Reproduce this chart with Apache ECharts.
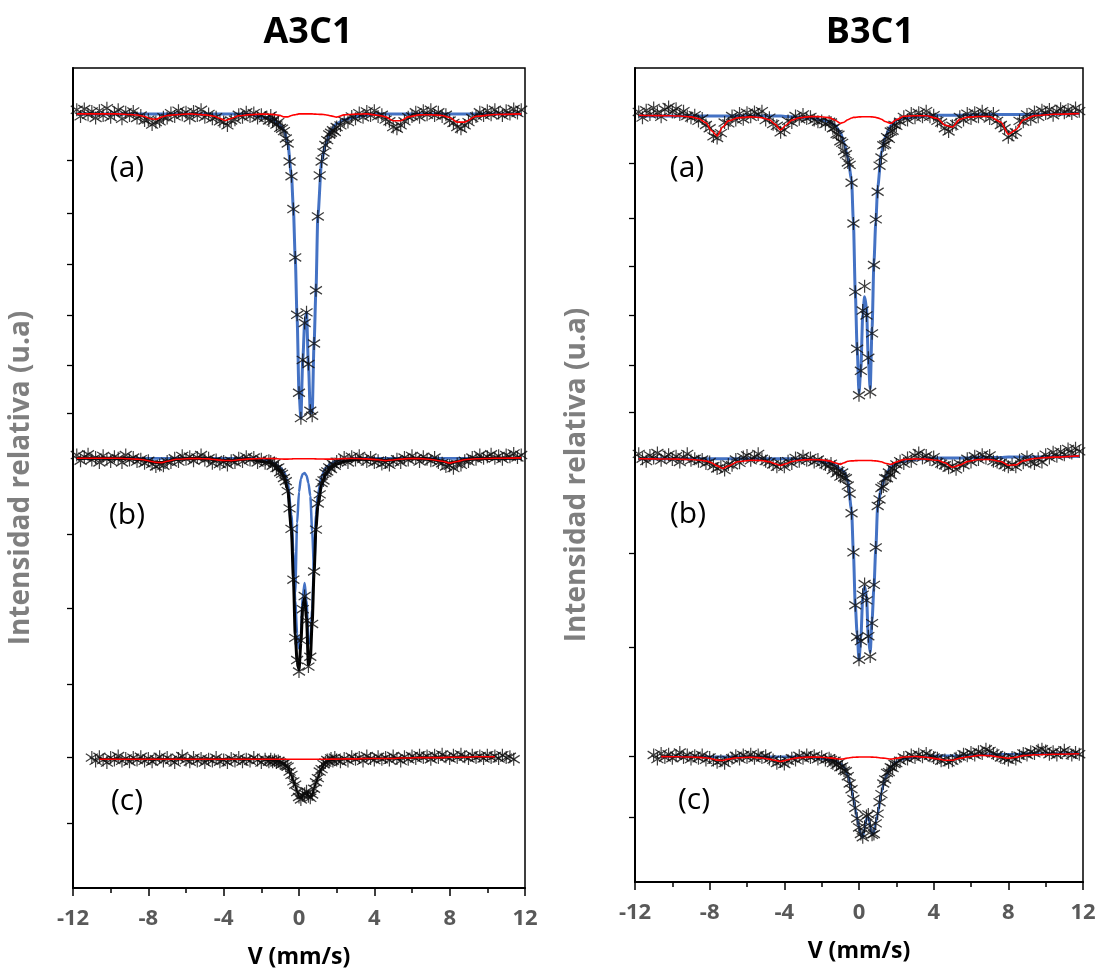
<!DOCTYPE html>
<html>
<head>
<meta charset="utf-8">
<script src="https://cdn.jsdelivr.net/npm/echarts@6/dist/echarts.min.js"></script>
<style>
html,body{margin:0;padding:0;background:#fff;}
#chart{width:1100px;height:975px;}
</style>
</head>
<body>
<div id="chart"></div>
<script>
// ---------- velocity channels (mm/s) ----------
const velocity = [
-11.8,-11.6,-11.4,-11.2,-11.0,-10.8,-10.6,-10.4,-10.2,-10.0,-9.8,-9.6,-9.4,-9.2,-9.0,-8.8,-8.6,-8.4,-8.2,-8.0,
-7.8,-7.6,-7.4,-7.2,-7.0,-6.8,-6.6,-6.4,-6.2,-6.0,-5.8,-5.6,-5.4,-5.2,-5.0,-4.8,-4.6,-4.4,-4.2,-4.0,
-3.8,-3.6,-3.4,-3.2,-3.0,-2.8,-2.6,-2.4,-2.2,-2.0,-1.8,-1.6,
-1.5,-1.4,-1.3,-1.2,-1.1,-1.0,-0.9,-0.8,-0.7,-0.6,
-0.5,-0.4,-0.3,-0.2,-0.1,0.0,0.1,0.2,0.3,0.4,
0.5,0.6,0.7,0.8,0.9,1.0,1.1,1.2,1.3,1.4,
1.5,1.6,1.7,1.8,1.9,2.0,
2.2,2.4,2.6,2.8,3.0,3.2,3.4,3.6,3.8,4.0,4.2,4.4,4.6,4.8,5.0,5.2,5.4,5.6,5.8,6.0,
6.2,6.4,6.6,6.8,7.0,7.2,7.4,7.6,7.8,8.0,8.2,8.4,8.6,8.8,9.0,9.2,9.4,9.6,9.8,
10.0,10.2,10.4,10.6,10.8,11.0,11.2,11.4,11.6,11.8
];
// velocities at which the fitted curves are listed
const fitVelocity = [
-11.8,-10.6,-9.6,-9.0,-8.6,-8.2,-7.9,-7.6,-7.3,-7.0,
-6.5,-5.8,-5.2,-4.8,-4.5,-4.2,-3.9,-3.6,-3.2,-2.6,-2.0,
-1.6,-1.3,-1.0,-0.8,-0.6,-0.4,-0.3,-0.2,-0.1,0.0,
0.1,0.2,0.3,0.4,0.5,0.6,0.7,0.8,0.9,1.0,
1.2,1.4,1.7,2.0,2.4,3.0,3.6,4.2,4.6,5.0,
5.4,5.8,6.4,7.0,7.6,8.0,8.4,8.8,9.4,10.4,11.8
];

// ---------- A3C1 ----------
const a3c1_a_data = [
94.9,94.1,95.0,94.3,94.7,93.9,94.8,94.2,95.1,94.0,94.5,94.9,93.8,94.6,94.2,94.7,93.9,94.2,93.6,93.7,
93.1,93.4,93.5,94.0,93.9,94.5,94.1,94.8,94.3,94.6,93.9,94.7,94.2,94.9,94.0,94.4,93.8,94.0,93.5,93.4,
93.0,93.6,93.7,94.3,94.0,94.6,94.1,94.5,93.9,94.3,93.9,93.6,
94.2,93.5,93.8,93.1,93.4,92.7,92.6,92.3,91.4,90.8,
88.6,86.8,82.8,76.9,69.9,60.4,57.3,64.4,68.9,70.2,
63.9,58.2,57.6,66.4,72.9,81.9,86.9,88.6,89.7,90.6,
91.2,91.9,92.1,92.4,92.2,92.8,
93.0,93.6,93.4,94.1,93.8,94.5,94.0,94.7,94.2,94.8,94.1,94.3,93.7,93.5,92.8,92.6,93.0,93.5,94.0,94.1,
94.6,94.0,94.8,94.3,94.9,94.2,94.6,94.1,94.3,93.6,93.3,92.8,92.6,93.0,93.4,93.9,94.1,94.6,94.2,
94.8,94.3,94.9,94.5,94.2,94.8,94.4,95.0,94.5,94.9
];
const a3c1_a_doublet = [
94.4,94.4,94.4,94.4,94.4,94.4,94.4,94.4,94.4,94.4,
94.4,94.4,94.4,94.4,94.4,94.4,94.4,94.4,94.4,94.35,94.0,
93.95,93.6,93.0,92.4,90.9,86.9,82.9,76.9,69.4,60.4,
57.3,64.4,68.9,70.2,63.9,58.0,58.0,66.4,72.9,81.9,
88.6,90.6,92.4,93.2,93.7,94.05,94.25,94.4,94.4,94.4,
94.4,94.4,94.4,94.4,94.4,94.4,94.4,94.4,94.4,94.4,94.4
];
const a3c1_a_sextet = [
94.4,94.4,94.4,94.33,94.26,94.08,93.82,93.73,94.01,94.2,
94.32,94.4,94.32,94.24,94.11,93.85,93.6,93.85,94.17,94.32,94.38,
94.36,94.32,94.2,94.04,94.04,94.2,94.26,94.3,94.35,94.4,
94.4,94.4,94.4,94.4,94.4,94.4,94.4,94.38,94.37,94.36,
94.34,94.3,94.16,94.01,94.28,94.38,94.4,94.23,94.04,93.57,
93.57,94.04,94.28,94.3,94.2,93.97,93.4,93.4,94.11,94.33,94.4
];

const a3c1_b_data = [
52.8,52.1,52.6,52.9,52.2,52.5,51.9,52.7,52.3,52.0,52.6,52.4,51.9,52.8,52.2,52.5,52.0,52.3,51.8,52.1,
51.7,51.4,51.6,51.5,52.0,51.9,52.4,52.0,52.7,52.3,52.6,52.1,52.5,52.8,52.2,52.4,51.8,52.2,51.7,52.0,
51.6,52.1,51.9,52.4,52.0,52.6,52.2,52.5,51.9,52.3,51.8,52.1,
52.0,51.5,51.8,51.2,51.3,50.7,50.5,50.0,49.6,48.4,
46.3,43.8,37.6,30.5,27.8,26.4,30.2,34.0,35.6,32.6,
27.0,28.2,32.2,38.6,43.7,46.9,48.0,49.4,49.7,50.6,
50.8,51.3,51.1,51.7,51.5,52.0,
52.0,52.5,51.9,52.6,52.2,52.7,52.3,52.0,52.5,51.9,52.1,51.7,51.9,51.6,52.0,52.3,51.9,52.5,52.2,52.7,
52.4,52.0,52.6,52.3,52.1,52.5,51.9,51.8,51.4,51.5,51.2,51.7,51.6,52.1,52.0,52.5,52.3,52.8,52.4,
52.6,52.9,52.4,52.7,52.3,52.8,52.6,53.0,52.5,52.8
];
const a3c1_b_total = [
52.4,52.4,52.4,52.35,52.3,52.2,52.05,51.9,51.88,52.05,
52.28,52.37,52.36,52.33,52.25,52.18,52.13,52.12,52.22,52.33,52.0,
51.9,51.6,50.9,50.2,48.6,43.6,37.9,30.9,27.6,26.6,
29.9,34.4,35.4,32.9,27.2,27.9,32.4,38.4,43.9,46.6,
49.2,50.4,51.3,51.7,52.0,52.25,52.3,52.22,52.12,52.2,
52.3,52.36,52.36,52.26,52.05,51.82,52.02,52.22,52.34,52.4,52.45
];
const a3c1_b_doubletA = [
52.4,52.4,52.4,52.4,52.4,52.4,52.4,52.4,52.4,52.4,
52.4,52.4,52.4,52.4,52.4,52.4,52.4,52.4,52.4,52.4,52.2,
51.9,51.5,50.9,50.1,48.6,43.8,39.5,36.0,44.5,48.3,
49.9,50.5,50.6,50.3,49.4,47.8,43.5,38.6,44.0,46.8,
49.0,50.3,51.2,51.7,52.1,52.3,52.4,52.4,52.4,52.4,
52.4,52.4,52.4,52.4,52.4,52.4,52.4,52.4,52.4,52.4,52.4
];
const a3c1_b_doubletB = [
52.4,52.4,52.4,52.4,52.4,52.4,52.4,52.4,52.4,52.4,
52.4,52.4,52.4,52.4,52.4,52.4,52.4,52.4,52.4,52.4,52.3,
52.1,51.8,51.3,50.8,49.5,45.5,41.0,35.0,31.0,29.2,
31.0,35.5,37.2,35.0,30.2,29.8,34.0,40.0,45.5,48.0,
50.2,51.2,51.8,52.1,52.3,52.4,52.4,52.4,52.4,52.4,
52.4,52.4,52.4,52.4,52.4,52.4,52.4,52.4,52.4,52.4,52.4
];
const a3c1_b_sextet = [
52.4,52.4,52.4,52.35,52.3,52.2,52.05,51.9,51.88,52.05,
52.28,52.37,52.36,52.33,52.25,52.18,52.13,52.12,52.22,52.33,52.38,
52.38,52.36,52.32,52.3,52.3,52.32,52.34,52.34,52.34,52.34,
52.34,52.34,52.34,52.34,52.34,52.34,52.34,52.34,52.33,52.32,
52.32,52.3,52.3,52.32,52.36,52.38,52.33,52.22,52.12,52.2,
52.3,52.36,52.36,52.26,52.05,51.82,52.02,52.22,52.34,52.4,52.45
];

const a3c1_c_data = [
null,null,null,null,15.9,15.5,16.0,15.6,15.3,15.9,15.6,16.1,15.5,15.8,15.4,15.9,15.6,16.0,15.5,15.8,
15.4,15.7,16.0,15.5,15.9,15.6,15.3,15.8,16.1,15.6,15.4,15.9,15.5,15.8,15.3,15.7,15.5,15.9,15.4,15.6,
15.3,15.8,15.5,15.9,15.4,15.7,15.5,15.9,15.6,15.3,15.7,15.4,
15.7,15.4,15.6,15.3,15.5,15.3,15.1,15.2,14.9,14.8,
14.2,13.8,13.0,12.6,11.7,11.1,10.8,11.3,11.5,11.8,
11.2,11.0,11.4,12.1,12.9,13.4,14.2,14.5,15.1,15.3,
15.6,15.4,15.8,15.5,15.9,15.6,
15.4,15.8,15.5,16.0,15.7,15.9,15.5,16.1,15.8,15.6,16.0,15.7,15.9,15.6,16.1,15.8,15.5,16.0,15.7,16.1,
15.8,16.2,15.9,16.1,15.7,16.2,15.9,16.3,16.0,15.8,16.2,15.9,16.3,16.0,15.8,16.2,15.9,16.1,15.8,
16.2,15.9,16.1,15.8,16.2,15.9,16.0,15.7,null,null
];
const a3c1_c_total = [
null,15.7,15.7,15.7,15.7,15.7,15.7,15.7,15.7,15.7,
15.7,15.7,15.7,15.7,15.7,15.7,15.7,15.7,15.7,15.7,15.7,
15.65,15.6,15.4,15.2,14.7,13.7,13.1,12.5,11.8,11.2,
10.9,11.2,11.6,11.7,11.3,11.0,11.3,12.2,12.8,13.5,
14.6,15.3,15.6,15.7,15.75,15.75,15.8,15.8,15.8,15.8,
15.85,15.85,15.9,15.9,15.9,15.95,15.95,15.95,16.0,16.0,null
];
const a3c1_c_sextet = [
null,15.7,15.7,15.7,15.7,15.7,15.7,15.7,15.7,15.7,
15.7,15.7,15.7,15.7,15.7,15.7,15.7,15.7,15.7,15.7,15.7,
15.7,15.7,15.7,15.7,15.7,15.7,15.7,15.7,15.7,15.7,
15.7,15.7,15.7,15.7,15.7,15.7,15.7,15.7,15.7,15.7,
15.7,15.7,15.72,15.72,15.75,15.75,15.8,15.8,15.8,15.8,
15.85,15.85,15.9,15.9,15.9,15.95,15.95,15.95,16.0,16.0,null
];

// ---------- B3C1 ----------
const b3c1_a_data = [
94.6,93.9,94.8,94.3,95.1,94.5,94.0,94.9,95.2,94.6,95.0,94.3,94.7,94.1,93.9,94.2,93.5,93.8,93.0,92.6,
91.6,91.4,92.0,93.3,93.2,94.1,93.6,94.4,93.7,94.5,94.0,94.6,94.3,94.7,93.6,93.9,93.1,92.9,92.1,92.4,
93.5,93.3,94.1,93.7,94.3,93.8,94.0,93.6,93.4,93.5,93.1,93.4,
93.3,92.6,92.7,91.9,91.8,91.0,90.8,89.8,89.4,88.4,
88.1,85.9,80.9,72.5,65.5,59.8,62.8,70.2,73.2,69.6,
64.4,60.2,67.4,75.8,81.4,84.8,88.0,89.0,90.5,90.6,
91.5,91.3,92.2,92.3,93.0,92.9,
93.4,94.0,93.6,94.4,93.9,94.5,94.0,94.7,94.0,94.2,93.5,93.3,92.6,92.2,92.9,93.1,94.0,93.6,94.4,93.8,
94.5,94.0,94.7,94.3,93.8,94.4,93.5,93.0,92.6,91.5,91.8,92.1,93.5,93.4,94.3,93.7,94.6,94.0,94.8,
94.4,94.9,94.2,94.7,95.0,94.5,94.9,94.4,95.1,94.7
];
const b3c1_a_doublet = [
94.1,94.1,94.1,94.1,94.1,94.1,94.1,94.1,94.1,94.1,
94.1,94.1,94.1,94.1,94.1,94.1,94.05,94.0,93.95,93.85,93.6,
93.4,93.0,92.1,90.8,89.0,86.3,81.1,72.6,65.6,60.1,
63.1,69.6,71.9,70.6,64.1,60.6,68.1,76.1,81.1,85.3,
89.6,91.5,92.9,93.6,93.85,94.0,94.1,94.2,94.2,94.2,
94.2,94.25,94.25,94.3,94.3,94.3,94.3,94.3,94.3,94.35,94.4
];
const b3c1_a_sextet = [
94.2,94.15,94.1,94.0,93.8,93.28,92.29,91.66,92.76,93.5,
93.87,93.99,93.89,93.65,93.1,92.4,93.0,93.6,93.89,94.03,94.02,
93.9,93.62,93.21,93.34,93.65,93.86,93.93,93.93,93.97,93.99,
94.0,94.02,94.02,94.02,94.02,94.01,93.99,93.96,93.93,93.87,
93.71,93.42,93.2,93.64,94.07,94.14,94.13,93.8,92.98,92.75,
93.69,93.95,94.05,94.04,93.36,91.85,92.4,93.62,94.15,94.32,94.4
];

const b3c1_b_data = [
52.6,52.0,51.7,52.4,52.1,52.7,51.8,52.2,52.5,51.9,52.3,51.6,52.2,52.6,51.8,52.0,51.7,51.9,51.4,51.6,
51.1,50.8,51.0,50.6,51.3,51.2,51.9,51.5,52.2,52.4,51.8,52.2,52.6,52.0,51.7,51.6,51.3,51.0,51.4,51.0,
51.7,51.4,52.1,51.7,52.3,51.8,52.1,51.6,51.9,51.5,51.3,51.1,
51.4,50.6,51.0,50.2,50.5,49.8,50.3,49.7,49.6,48.7,
47.7,45.3,40.5,34.0,30.1,27.3,29.6,35.3,36.6,34.6,
30.2,27.7,31.8,36.5,41.1,46.2,47.0,48.4,48.6,49.6,
49.6,50.3,50.0,50.8,50.6,51.3,
51.7,51.4,52.1,51.7,52.4,52.7,52.1,52.4,51.9,52.2,51.6,51.4,51.2,50.9,51.1,50.7,51.4,51.2,52.0,51.6,
52.3,51.9,52.5,52.1,52.4,51.7,51.6,51.5,51.2,51.0,51.3,51.0,51.8,51.5,52.2,51.6,51.4,52.0,51.6,
52.5,52.1,52.8,52.3,52.9,52.5,53.2,52.7,53.3,52.9
];
const b3c1_b_doublet = [
52.0,52.0,52.0,52.0,52.0,52.0,52.0,52.0,52.0,52.0,
52.0,52.0,52.0,52.0,52.0,52.0,52.0,52.0,51.95,51.9,51.65,
51.5,51.2,50.75,50.4,49.2,45.7,40.5,34.0,30.5,27.3,
30.0,35.0,36.3,35.2,30.0,28.2,32.2,36.2,41.0,46.2,
48.4,49.8,51.0,51.45,51.7,51.9,52.0,52.1,52.1,52.1,
52.1,52.1,52.15,52.15,52.15,52.2,52.2,52.2,52.2,52.25,52.3
];
const b3c1_b_sextet = [
51.99,51.97,51.95,51.9,51.84,51.72,51.51,51.12,50.8,51.1,
51.62,51.81,51.78,51.63,51.38,51.17,51.39,51.66,51.82,51.89,51.86,
51.74,51.5,51.31,51.5,51.69,51.74,51.74,51.76,51.77,51.78,
51.78,51.78,51.78,51.78,51.78,51.78,51.77,51.75,51.73,51.7,
51.62,51.45,51.3,51.6,51.89,51.98,51.95,51.81,51.5,50.95,
51.21,51.64,51.91,51.91,51.66,51.2,51.25,51.75,52.03,52.2,52.35
];

const b3c1_c_data = [
null,null,null,null,15.6,15.1,15.8,15.3,15.7,15.2,15.5,15.9,15.3,15.6,15.1,15.5,15.2,15.6,15.0,15.3,
15.0,14.7,14.9,14.6,15.0,15.2,15.5,15.1,15.6,15.3,15.7,15.2,15.6,15.3,15.5,15.1,15.0,14.6,14.8,14.5,
14.9,15.2,15.0,15.5,15.2,15.6,15.3,15.5,15.1,15.4,15.0,15.2,
15.0,14.6,14.9,14.4,14.6,14.1,14.2,13.7,13.6,13.0,
12.1,11.4,10.2,9.1,7.8,6.7,5.9,5.5,6.8,8.1,
8.3,6.9,5.8,5.9,7.2,8.4,9.8,10.8,12.1,12.6,
13.4,13.5,14.1,14.0,14.5,14.6,
14.9,15.3,15.1,15.6,15.3,15.7,15.4,15.8,15.5,15.3,15.2,14.9,15.0,14.7,14.9,15.2,15.4,15.7,15.5,15.9,
15.6,16.0,15.8,16.3,16.1,15.8,15.6,15.3,15.2,15.0,15.3,15.1,15.5,15.8,15.6,16.0,15.8,16.2,16.3,
16.1,15.7,16.0,15.6,15.9,16.2,15.8,15.6,15.9,15.7
];
const b3c1_c_doublet = [
null,15.4,15.4,15.4,15.4,15.4,15.4,15.4,15.4,15.4,
15.4,15.4,15.4,15.4,15.4,15.4,15.4,15.4,15.4,15.35,15.15,
15.0,14.9,14.55,14.1,13.1,11.4,10.2,9.0,7.8,6.7,
5.8,5.5,6.6,7.8,8.0,6.9,5.8,6.1,7.4,8.3,
11.0,12.8,14.1,14.75,15.1,15.3,15.4,15.5,15.5,15.5,
15.5,15.55,15.6,15.65,15.7,15.7,15.7,15.75,15.75,15.8,15.8
];
const b3c1_c_sextet = [
null,15.4,15.38,15.35,15.31,15.26,15.15,14.97,14.92,15.1,
15.27,15.32,15.24,15.1,14.96,14.8,14.96,15.15,15.28,15.34,15.33,
15.25,15.19,15.1,15.14,15.23,15.3,15.32,15.33,15.34,15.35,
15.35,15.35,15.35,15.35,15.35,15.35,15.34,15.33,15.32,15.3,
15.24,15.2,15.1,15.2,15.36,15.42,15.32,15.12,14.96,14.96,
15.2,15.36,15.55,15.52,15.32,15.2,15.32,15.52,15.64,15.7,15.75
];

// ---------- axis ticks / labels ----------
const xTicks = [-12, -8, -4, 0, 4, 8, 12];
const yTicksA3C1 = [88.7, 82.3, 76.1, 69.9, 63.8, 57.9, 43.2, 34.1, 24.9, 16.0, 7.9];
const yTicksB3C1 = [88.3, 81.6, 75.7, 69.6, 63.5, 57.7, 40.4, 28.9, 15.4, 7.9];
const panelTitles = ['A3C1', 'B3C1'];
const spectrumLabels = ['(a)', '(b)', '(c)'];
const yAxisTitle = 'Intensidad relativa (u.a)';
const xAxisTitle = 'V (mm/s)';

// ---------- chart ----------
const BLUE = '#4472C4', RED = '#FF0000';
const ASTERISK = 'path://M0,-6L0,6M-5.2,-3.6L5.2,3.6M-5.2,3.6L5.2,-3.6';
const FONT = '"Open Sans", "Noto Sans", sans-serif';

function pts(xs, ys) { return xs.map((v, i) => [v, ys[i] == null ? null : ys[i]]); }
function scatter(g, arr) {
  return { type: 'scatter', xAxisIndex: g, yAxisIndex: g, data: pts(velocity, arr),
    symbol: ASTERISK, symbolSize: [12, 13], silent: true, z: 3,
    itemStyle: { color: 'rgba(0,0,0,0)', borderColor: '#0d0d0d', borderWidth: 1.25 } };
}
function line(g, arr, color, width, z) {
  return { type: 'line', xAxisIndex: g, yAxisIndex: g, data: pts(fitVelocity, arr),
    showSymbol: false, smooth: 0.25, smoothMonotone: 'x', silent: true, z: z,
    lineStyle: { color: color, width: width }, connectNulls: false };
}

const grids = [
  { left: 73, right: 575, top: 68, bottom: 87, show: true, borderColor: '#000', borderWidth: 1.5 },
  { left: 635, right: 17, top: 68, bottom: 93, show: true, borderColor: '#000', borderWidth: 1.5 }
];
function xAxis(g) {
  return { type: 'value', gridIndex: g, min: -12, max: 12, interval: 4,
    name: xAxisTitle, nameLocation: 'middle', nameGap: 58,
    nameTextStyle: { fontSize: 23, fontWeight: 'bold', color: '#000', fontFamily: FONT },
    axisLine: { show: true, onZero: false, lineStyle: { color: '#000', width: 2 } },
    axisTick: { show: true, length: 8, lineStyle: { color: '#000', width: 1.5 } },
    minorTick: { show: true, splitNumber: 2, length: 5, lineStyle: { color: '#000', width: 1.5 } },
    splitLine: { show: false }, minorSplitLine: { show: false },
    axisLabel: { fontSize: 22, fontWeight: 'bold', color: '#595959', margin: 20, fontFamily: FONT,
      customValues: xTicks } };
}
function yAxis(g, ticks, gap) {
  return { type: 'value', gridIndex: g, min: 0, max: 100,
    name: yAxisTitle, nameLocation: 'middle', nameGap: gap,
    nameTextStyle: { fontSize: 28, fontWeight: 'bold', color: '#7f7f7f', fontFamily: FONT },
    axisLine: { show: true, onZero: false, lineStyle: { color: '#000', width: 2 } },
    axisTick: { show: true, length: 6, customValues: ticks, lineStyle: { color: '#000', width: 1.3 } },
    axisLabel: { show: false }, splitLine: { show: false } };
}

const series = [
  // A3C1
  line(0, a3c1_a_doublet, BLUE, 3, 2),
  line(0, a3c1_b_doubletB, BLUE, 2.5, 2),
  line(0, a3c1_b_doubletA, BLUE, 2.5, 2),
  line(0, a3c1_b_total, '#000', 3, 2),
  line(0, a3c1_c_total, '#000', 2, 2),
  scatter(0, a3c1_a_data), scatter(0, a3c1_b_data), scatter(0, a3c1_c_data),
  line(0, a3c1_a_sextet, RED, 1.6, 4),
  line(0, a3c1_b_sextet, RED, 1.6, 4),
  line(0, a3c1_c_sextet, RED, 1.6, 4),
  // B3C1
  line(1, b3c1_a_doublet, BLUE, 3, 2),
  line(1, b3c1_b_doublet, BLUE, 3, 2),
  line(1, b3c1_c_doublet, BLUE, 2.5, 2),
  scatter(1, b3c1_a_data), scatter(1, b3c1_b_data), scatter(1, b3c1_c_data),
  line(1, b3c1_a_sextet, RED, 1.6, 4),
  line(1, b3c1_b_sextet, RED, 1.6, 4),
  line(1, b3c1_c_sextet, RED, 1.6, 4)
];

function txt(x, y, s, font) {
  return { type: 'text', x: x, y: y, silent: true,
    style: { text: s, font: font, fill: '#000', align: 'center', verticalAlign: 'middle' } };
}
const labelFont = '30px ' + FONT;
const graphic = [
  txt(308, 33, panelTitles[0], 'bold 36px ' + FONT),
  txt(870, 33, panelTitles[1], 'bold 36px ' + FONT),
  txt(127, 168, spectrumLabels[0], labelFont),
  txt(127, 515, spectrumLabels[1], labelFont),
  txt(127, 801, spectrumLabels[2], labelFont),
  txt(687, 168, spectrumLabels[0], labelFont),
  txt(688, 514, spectrumLabels[1], labelFont),
  txt(694, 800, spectrumLabels[2], labelFont)
];

const chart = echarts.init(document.getElementById('chart'), null, { renderer: 'canvas' });
chart.setOption({
  animation: false,
  backgroundColor: '#fff',
  grid: grids,
  xAxis: [xAxis(0), xAxis(1)],
  yAxis: [yAxis(0, yTicksA3C1, 38), yAxis(1, yTicksB3C1, 44)],
  series: series,
  graphic: graphic
});
</script>
</body>
</html>
